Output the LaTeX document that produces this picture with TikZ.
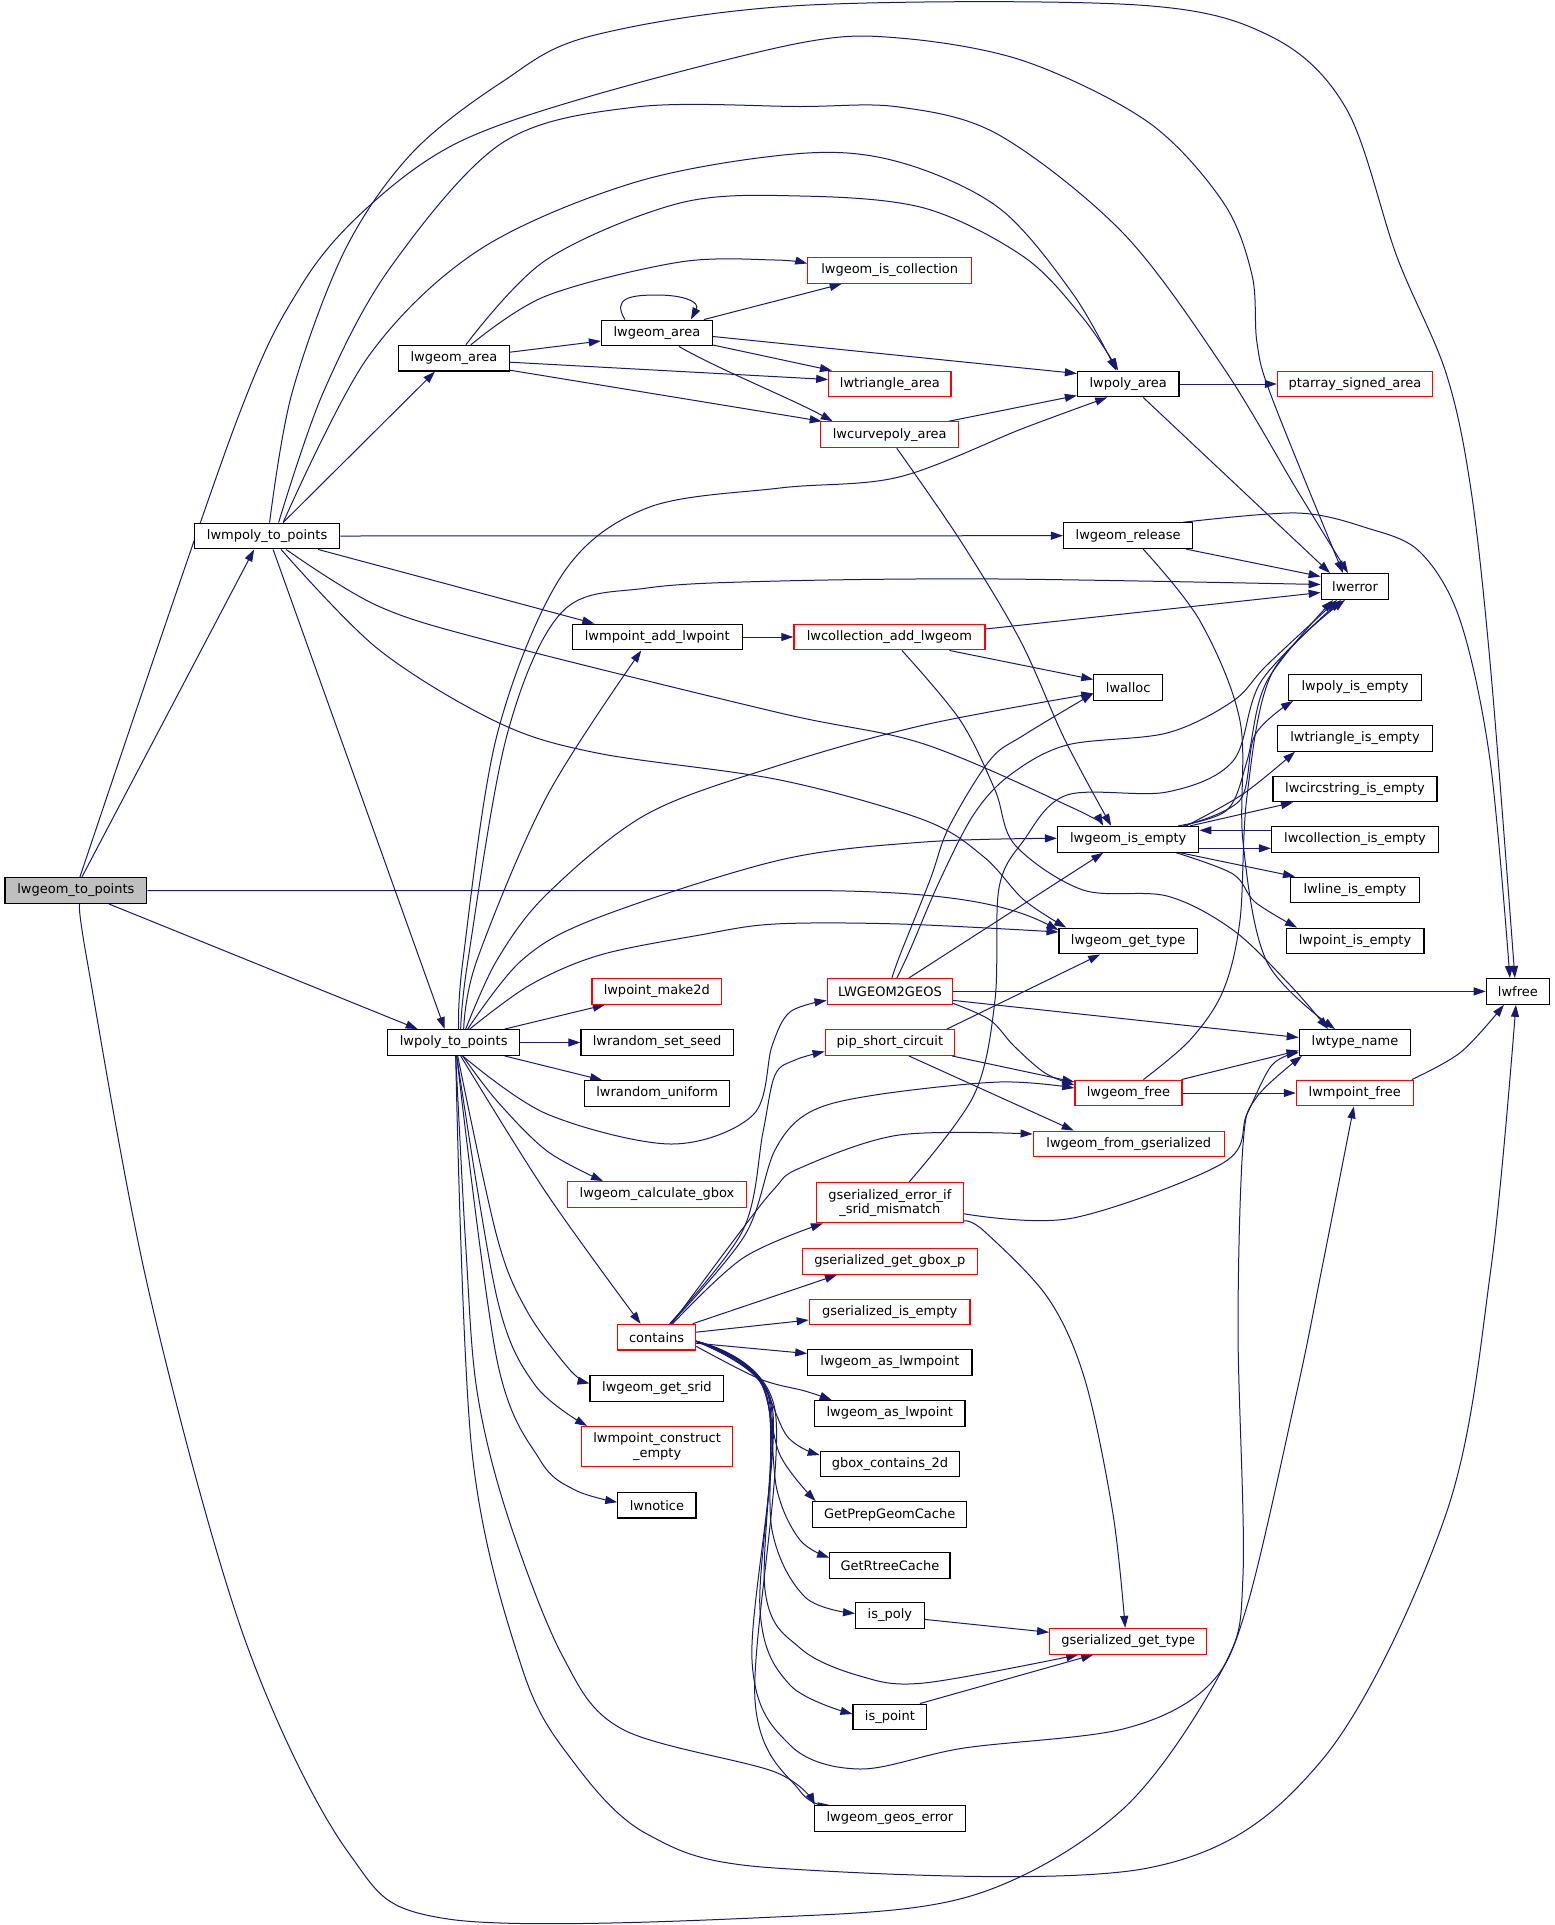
\documentclass[tikz,border=0pt]{standalone}
\usepackage{fontspec}
\newfontfamily\dvs{DejaVu Sans}
\usetikzlibrary{arrows.meta}
\pgfdeclarelayer{background}
\pgfdeclarelayer{backmost}
\pgfsetlayers{backmost,background,main}
\definecolor{navyedge}{HTML}{191970}
\tikzset{
 fn/.style={draw=black, line width=1.2pt, fill=white, minimum height=25.7pt, inner xsep=3pt, inner ysep=2pt,
   font=\dvs\fontsize{13}{14.2}\selectfont, text=black},
 rfn/.style={fn, draw=red},
 rootfn/.style={fn, fill=black!25},
 cl/.style={draw=navyedge, line width=1pt, -{Triangle[length=12pt,width=8pt]}},
 sm/.style={smooth, tension=0.55}
}
\begin{document}
\begin{tikzpicture}[x=1pt,y=-1pt]
\useasboundingbox (0,0) rectangle (1555,1925);
\begin{pgfonlayer}{backmost}
\fill[white] (0,0) rectangle (1555,1925);
\end{pgfonlayer}
% nodes
\node[rootfn, minimum width=141.7pt] (A) at (75.9,890.5) {lwgeom\_to\_points};
\node[fn, minimum width=145.2pt] (B) at (267.1,536) {lwmpoly\_to\_points};
\node[fn, minimum width=110.9pt] (ga1) at (453.9,358.2) {lwgeom\_area};
\node[fn, minimum width=110.9pt] (ga2) at (656.9,333) {lwgeom\_area};
\node[fn, minimum width=169.6pt] (mpadd) at (657.3,637) {lwmpoint\_add\_lwpoint};
\node[rfn, minimum width=163.7pt] (iscoll) at (889.7,270.5) {lwgeom\_is\_collection};
\node[rfn, minimum width=122.3pt] (trarea) at (889.9,384) {lwtriangle\_area};
\node[rfn, minimum width=137.7pt] (cparea) at (889.7,434.7) {lwcurvepoly\_area};
\node[fn, minimum width=101.5pt] (parea) at (1128.2,384) {lwpoly\_area};
\node[rfn, minimum width=155.2pt] (psa) at (1355,384) {ptarray\_signed\_area};
\node[fn, minimum width=129.3pt] (release) at (1128.2,535.7) {lwgeom\_release};
\node[fn, minimum width=67.6pt] (lwerror) at (1355,586.5) {lwerror};
\node[rfn, minimum width=191pt] (colladd) at (889.4,637) {lwcollection\_add\_lwgeom};
\node[fn, minimum width=68.7pt] (lwalloc) at (1128.2,687.5) {lwalloc};
\node[fn, minimum width=132.3pt] (polyempty) at (1355,687.5) {lwpoly\_is\_empty};
\node[fn, minimum width=155.2pt] (triempty) at (1355,738.3) {lwtriangle\_is\_empty};
\node[fn, minimum width=164.1pt] (circempty) at (1355,789) {lwcircstring\_is\_empty};
\node[fn, minimum width=141.3pt] (isempty) at (1128.2,839.3) {lwgeom\_is\_empty};
\node[fn, minimum width=167.1pt] (collempty) at (1355,839.3) {lwcollection\_is\_empty};
\node[fn, minimum width=128.8pt] (lineempty) at (1355,890) {lwline\_is\_empty};
\node[fn, minimum width=138.3pt] (gettype) at (1128.2,941) {lwgeom\_get\_type};
\node[fn, minimum width=137.8pt] (ptempty) at (1355,941) {lwpoint\_is\_empty};
\node[fn, minimum width=132.3pt] (C) at (453.7,1042.5) {lwpoly\_to\_points};
\node[rfn, minimum width=129.8pt] (make2d) at (656.8,991.4) {lwpoint\_make2d};
\node[fn, minimum width=152.2pt] (seed) at (657.1,1042.5) {lwrandom\_set\_seed};
\node[fn, minimum width=145.2pt] (uniform) at (657.1,1093.5) {lwrandom\_uniform};
\node[rfn, minimum width=179.1pt] (gbox) at (657,1194.5) {lwgeom\_calculate\_gbox};
\node[rfn, minimum width=77.6pt] (contains) at (656.6,1337.2) {contains};
\node[fn, minimum width=133.7pt] (srid) at (656.9,1388.4) {lwgeom\_get\_srid};
\node[rfn, minimum width=151.2pt, minimum height=40pt, align=center] (mpce) at (657.1,1446.5) {lwmpoint\_construct\\\_empty};
\node[fn, minimum width=78.1pt] (notice) at (656.9,1505.2) {lwnotice};
\node[rfn, minimum width=125.4pt] (geos) at (889.9,991.4) {LWGEOM2GEOS};
\node[rfn, minimum width=129.4pt] (pip) at (889.9,1042.5) {pip\_short\_circuit};
\node[rfn, minimum width=107pt] (gfree) at (1128.4,1093) {lwgeom\_free};
\node[rfn, minimum width=191pt] (fromgs) at (1128.7,1144) {lwgeom\_from\_gserialized};
\node[rfn, minimum width=147.2pt, minimum height=40pt, align=center] (srmis) at (889.9,1202.8) {gserialized\_error\_if\\\_srid\_mismatch};
\node[rfn, minimum width=175pt] (gboxp) at (889.9,1261.5) {gserialized\_get\_gbox\_p};
\node[rfn, minimum width=160.7pt] (gsempty) at (889.7,1312) {gserialized\_is\_empty};
\node[fn, minimum width=164.2pt] (asmpt) at (889.9,1362.5) {lwgeom\_as\_lwmpoint};
\node[fn, minimum width=150.7pt] (aspt) at (889.7,1413.5) {lwgeom\_as\_lwpoint};
\node[fn, minimum width=139.2pt] (gbc) at (889.9,1464) {gbox\_contains\_2d};
\node[fn, minimum width=153.7pt] (gpgc) at (889.7,1514.5) {GetPrepGeomCache};
\node[fn, minimum width=120.3pt] (grtc) at (889.9,1565.5) {GetRtreeCache};
\node[fn, minimum width=68.6pt] (ispoly) at (889.9,1615.4) {is\_poly};
\node[rfn, minimum width=157.1pt] (gsgt) at (1128.2,1641.3) {gserialized\_get\_type};
\node[fn, minimum width=73.7pt] (ispoint) at (889.9,1717) {is\_point};
\node[fn, minimum width=151.2pt] (geoserr) at (889.9,1818.5) {lwgeom\_geos\_error};
\node[fn, minimum width=63.2pt] (lwfree) at (1517.9,991.4) {lwfree};
\node[fn, minimum width=111.4pt] (typename) at (1355,1042.5) {lwtype\_name};
\node[rfn, minimum width=116.9pt] (mpfree) at (1354.8,1093) {lwmpoint\_free};

\begin{pgfonlayer}{background}
% lwgeom_to_points
\draw[cl] ([xshift=6pt]A.north) -- ([xshift=-13pt]B.south);
\draw[cl] ([xshift=33pt]A.south) -- ([xshift=-36pt]C.north);
\draw[cl] (A.east) -- (800,890.5) .. controls (950,890.5) and (1010,905) .. ([yshift=11pt]gettype.west);
\draw[cl] plot[sm] coordinates {([xshift=4pt]A.north) (234,428) (301,286) (368,207) (457,143) (591,96) (800,43) (899,38) (1024,61) (1148,122) (1223,202) (1252,275) (1257,343) (1272,398) ([xshift=-12pt]lwerror.north)};
\draw[cl] plot[sm] coordinates {([xshift=4pt]A.south) (87,960) (149,1292) (244,1637) (348,1852) (448,1919) (775,1917) (974,1895) (1123,1809) (1223,1668) (1243,1575) (1238,1329) (1243,1145) (1256,1098) ([xshift=-53pt]typename.south)};
% lwmpoly_to_points
\draw[cl] plot[sm] coordinates {([xshift=2.5pt]B.north) (292,393) (345,250) (412,153) (502,82) (591,36) (800,5.5) (1138,5) (1272,37) (1347,110) (1397,257) (1446,373) (1471,490) (1491,673) ([xshift=-3pt]lwfree.north)};
\draw[cl] plot[sm] coordinates {([xshift=11.5pt]B.north) (323,393) (390,268) (502,143) (636,107) (800,106.5) (899,107) (999,135) (1123,233) (1223,367) (1297,490) ([xshift=-7pt]lwerror.north)};
\draw[cl] plot[sm] coordinates {([xshift=16pt]B.north) (368,357) (479,250) (636,182) (800,153.5) (899,162) (999,208) (1073,294) ([xshift=-12pt]parea.north)};
\draw[cl] ([xshift=16pt]B.north) -- ([xshift=-19pt]ga1.south);
\draw[cl] ([xshift=6pt]B.south) -- ([xshift=-9pt]C.north);
\draw[cl] ([xshift=51pt]B.south) -- ([xshift=-63pt]mpadd.north);
\draw[cl] (B.east) -- (release.west);
\draw[cl] plot[sm] coordinates {([xshift=19pt]B.south) (378,606) (497,643) (780,713) (924,744) (1073,808) ([xshift=-25pt]isempty.north)};
\draw[cl] plot[sm] coordinates {([xshift=14pt]B.south) (378,649) (497,722) (597,753) (780,780) (924,820) (984,857) (1024,900) ([xshift=-62pt]gettype.north)};
% lwgeom_area (1)
\draw[cl] ([yshift=6pt]ga1.east) -- ([yshift=-8pt]ga2.west);
\draw[cl] ([yshift=-4pt]ga1.east) -- ([yshift=4.5pt]trarea.west);
\draw[cl] ([yshift=-12pt]ga1.east) -- ([xshift=-68pt]cparea.north);
\draw[cl] plot[sm] coordinates {([xshift=17pt]ga1.north) (546,296) (680,262) (775,260) ([yshift=7pt]iscoll.west)};
\draw[cl] plot[sm] coordinates {([xshift=12pt]ga1.north) (546,260) (680,203) (800,196) (924,208) (1024,257) (1083,318) ([xshift=-10pt]parea.north)};
% lwgeom_area (2)
\draw[cl] ([xshift=-32pt]ga2.north) .. controls (612,298) and (630,295) .. (657,295) .. controls (684,295) and (700,302) .. ([xshift=34pt]ga2.north);
\draw[cl] ([xshift=47pt]ga2.north) -- ([xshift=-48pt]iscoll.south);
\draw[cl] ([yshift=-3.5pt]ga2.east) -- ([yshift=10.5pt]parea.west);
\draw[cl] ([yshift=-12pt]ga2.east) -- ([xshift=-58pt]trarea.north);
\draw[cl] ([xshift=22pt]ga2.south) .. controls (720,370) and (790,398) .. ([xshift=-57pt]cparea.north);
% lwcurvepoly_area
\draw[cl] ([xshift=59pt]cparea.north) -- ([yshift=-11.5pt]parea.west);
\draw[cl] plot[sm] coordinates {([xshift=7pt]cparea.south) (960,540) (1020,640) (1065,740) ([xshift=-17pt]isempty.north)};
% lwpoly_area
\draw[cl] (parea.east) -- (psa.west);
\draw[cl] ([xshift=15pt]parea.south) -- ([xshift=-25pt]lwerror.north);
% lwgeom_release
\draw[cl] plot[sm] coordinates {([xshift=55pt]release.north) (1297,513) (1367,528) (1420,552) (1460,620) (1490,760) ([xshift=-8pt]lwfree.north)};
\draw[cl] ([xshift=58pt]release.south) -- ([yshift=10pt]lwerror.west);
\draw[cl] plot[sm] coordinates {([xshift=15pt]release.south) (1200,621) (1240,721) (1243,842) (1267,962) ([xshift=-20pt]typename.north)};
% lwmpoint_add_lwpoint
\draw[cl] (mpadd.east) -- (colladd.west);
% lwcollection_add_lwgeom
\draw[cl] ([yshift=8pt]colladd.east) -- ([yshift=-6pt]lwerror.west);
\draw[cl] ([xshift=60pt]colladd.south) -- ([yshift=8pt]lwalloc.west);
\draw[cl] plot[sm] coordinates {([xshift=12.5pt]colladd.south) (960,720) (995,790) (1015,845) (1083,890) (1167,896) (1233,930) (1290,985) ([xshift=-27pt]typename.north)};
% lwgeom_is_empty
\draw[cl] plot[sm] coordinates {([xshift=55pt]isempty.north) (1240,800) (1255,735) ([xshift=-62pt]polyempty.south)};
\draw[cl] plot[sm] coordinates {([xshift=58pt]isempty.north) (1243,794) ([xshift=-60pt]triempty.south)};
\draw[cl] ([xshift=62pt]isempty.north) -- ([xshift=-62pt]circempty.south);
\draw[cl] ([yshift=-9pt]isempty.east) -- ([yshift=-9pt]collempty.west);
\draw[cl] ([yshift=9pt]collempty.west) -- ([yshift=9pt]isempty.east);
\draw[cl] ([xshift=52pt]isempty.south) -- ([xshift=-60pt]lineempty.north);
\draw[cl] plot[sm] coordinates {([xshift=48pt]isempty.south) (1233,874) (1255,902) ([xshift=-58pt]ptempty.north)};
\draw[cl] plot[sm] coordinates {([xshift=50pt]isempty.north) (1227,810) (1247,761) (1267,681) ([xshift=-22pt]lwerror.south)};
% lwpoly_to_points
\draw[cl] plot[sm] coordinates {([xshift=5pt]C.north) (463,960) (497,735) (562,575) (647,508) (780,488) (899,477) (1024,428) ([xshift=-21pt]parea.south)};
\draw[cl] plot[sm] coordinates {([xshift=7pt]C.north) (468,960) (507,735) (562,612) (647,588) (780,581) (1000,579) ([yshift=2pt]lwerror.west)};
\draw[cl] plot[sm] coordinates {([xshift=10pt]C.north) (477,960) (547,796) ([xshift=-16pt]mpadd.south)};
\draw[cl] plot[sm] coordinates {([xshift=12pt]C.north) (497,960) (547,894) (647,814) (780,765) (924,725) ([yshift=-6pt]lwalloc.west)};
\draw[cl] plot[sm] coordinates {([xshift=14pt]C.north) (522,960) (597,918) (780,860) (924,842) ([yshift=1pt]isempty.west)};
\draw[cl] plot[sm] coordinates {([xshift=16pt]C.north) (530,985) (600,955) (700,935) (775,924) (900,924) ([yshift=9pt]gettype.west)};
\draw[cl] plot[sm] coordinates {([xshift=9pt]C.south) (547,1114) (671,1144) (753,1115) (772,1046) (790,1012) ([yshift=-9pt]geos.west)};
\draw[cl] ([xshift=51pt]C.north) -- ([xshift=-52pt]make2d.south);
\draw[cl] (C.east) -- (seed.west);
\draw[cl] ([xshift=51pt]C.south) -- ([xshift=-55pt]uniform.north);
\draw[cl] plot[sm] coordinates {([xshift=9pt]C.south) (497,1101) (547,1151) ([xshift=-54pt]gbox.north)};
\draw[cl] plot[sm] coordinates {([xshift=7pt]C.south) (547,1194) ([xshift=-16pt]contains.north)};
\draw[cl] plot[sm] coordinates {([xshift=4pt]C.south) (497,1237) (527,1311) (570,1370) ([yshift=5pt]srid.west)};
\draw[cl] plot[sm] coordinates {([xshift=3pt]C.south) (497,1298) (535,1385) ([xshift=-70pt]mpce.north)};
\draw[cl] plot[sm] coordinates {([xshift=3pt]C.south) (497,1360) (540,1460) (575,1490) ([yshift=3pt]notice.west)};
\draw[cl] plot[sm] coordinates {([xshift=2pt]C.south) (466,1250) (477,1391) (507,1514) (562,1655) (622,1729) (775,1772) ([xshift=-75pt]geoserr.north)};
\draw[cl] plot[sm] coordinates {([xshift=2pt]C.south) (472,1452) (522,1668) (572,1760) (647,1834) (775,1868) (1148,1868) (1322,1760) (1446,1514) (1491,1268) ([xshift=-2pt]lwfree.south)};
% contains
\draw[cl] plot[sm] coordinates {([xshift=13pt]contains.north) (743,1230) (763,1132) (775,1075) (795,1060) ([yshift=-9pt]pip.west)};
\draw[cl] plot[sm] coordinates {([xshift=14pt]contains.north) (745,1235) (775,1150) (810,1112) (875,1095) (999,1082) ([yshift=5pt]gfree.west)};
\draw[cl] plot[sm] coordinates {([xshift=15pt]contains.north) (740,1232) (775,1188) (800,1168) (899,1135) ([yshift=10pt]fromgs.west)};
\draw[cl] plot[sm] coordinates {([xshift=16pt]contains.north) (743,1258) ([xshift=-67pt]srmis.south)};
\draw[cl] ([xshift=36pt]contains.north) -- ([xshift=-53pt]gboxp.south);
\draw[cl] ([yshift=5pt]contains.east) -- ([yshift=-8pt]gsempty.west);
\draw[cl] ([yshift=-6pt]contains.east) -- ([yshift=9pt]asmpt.west);
\draw[cl] plot[sm] coordinates {([yshift=-9pt]contains.east) (760,1379) (805,1391) ([xshift=-58pt]aspt.north)};
\draw[cl] plot[sm] coordinates {([yshift=-4pt]contains.east) (755,1372) (787,1436) ([yshift=9pt]gbc.west)};
\draw[cl] plot[sm] coordinates {([yshift=-4pt]contains.east) (758,1378) (780,1455) ([xshift=-74pt]gpgc.north)};
\draw[cl] plot[sm] coordinates {([yshift=-4pt]contains.east) (762,1385) (777,1490) (800,1540) ([yshift=8pt]grtc.west)};
\draw[cl] plot[sm] coordinates {([yshift=-4pt]contains.east) (765,1390) (772,1530) (805,1597) ([yshift=2pt]ispoly.west)};
\draw[cl] plot[sm] coordinates {([yshift=-4pt]contains.east) (768,1395) (765,1590) (800,1648) (860,1676) (924,1683) ([xshift=-50pt]gsgt.south)};
\draw[cl] plot[sm] coordinates {([yshift=-4pt]contains.east) (770,1400) (760,1610) (790,1685) ([yshift=3pt]ispoint.west)};
\draw[cl] plot[sm] coordinates {([yshift=-4pt]contains.east) (772,1405) (752,1660) (790,1745) (860,1769) (964,1748) (1123,1729) (1208,1686) (1247,1606) (1297,1391) (1322,1268) ([xshift=-1pt]mpfree.south)};
\draw[cl] plot[sm] coordinates {([yshift=-4pt]contains.east) (775,1410) (755,1700) (800,1791) ([xshift=-60pt]geoserr.north)};
% pip_short_circuit
\draw[cl] ([xshift=57pt]pip.north) -- ([xshift=-28pt]gettype.south);
\draw[cl] ([xshift=62pt]pip.south) -- ([yshift=11pt]gfree.west);
\draw[cl] ([xshift=19pt]pip.south) -- ([xshift=-55pt]fromgs.north);
% LWGEOM2GEOS
\draw[cl] (geos.east) -- (lwfree.west);
\draw[cl] ([yshift=-9pt]geos.east) -- ([yshift=5pt]typename.west);
\draw[cl] plot[sm] coordinates {([yshift=-12pt]geos.east) (990,1020) (1014,1046) (1045,1073) ([yshift=8pt]gfree.west)};
\draw[cl] plot[sm] coordinates {([xshift=7pt]geos.north) (910,950) (940,880) (974,814) (1010,775) (1067,745) (1167,733) (1233,701) (1267,665) ([xshift=-18pt]lwerror.south)};
\draw[cl] plot[sm] coordinates {([xshift=2pt]geos.north) (900,955) (930,880) (949,827) (990,760) (1024,735) ([yshift=-6pt]lwalloc.west)};
\draw[cl] ([xshift=19pt]geos.north) -- ([xshift=-25pt]isempty.south);
% lwgeom_free
\draw[cl] ([xshift=53pt]gfree.north) -- ([yshift=-8pt]typename.west);
\draw[cl] (gfree.east) -- (mpfree.west);
\draw[cl] plot[sm] coordinates {([xshift=15pt]gfree.north) (1190,1040) (1223,991) (1240,920) (1247,796) (1272,673) ([xshift=-10pt]lwerror.south)};
% gserialized_error_if_srid_mismatch
\draw[cl] plot[sm] coordinates {([yshift=-18pt]srmis.east) (984,1231) (1048,1298) (1085,1380) (1113,1514) ([xshift=-3pt]gsgt.north)};
\draw[cl] plot[sm] coordinates {([yshift=-11pt]srmis.east) (1073,1218) (1223,1163) (1247,1114) (1272,1065) ([yshift=-10pt]typename.west)};
\draw[cl] plot[sm] coordinates {([xshift=19pt]srmis.north) (974,1095) (995,1000) (999,888) (1024,840) (1067,795) (1167,792) (1233,761) (1262,680) ([xshift=-14pt]lwerror.south)};
% is_poly, is_point, lwmpoint_free
\draw[cl] ([yshift=-4pt]ispoly.east) -- ([yshift=9pt]gsgt.west);
\draw[cl] ([xshift=30pt]ispoint.north) -- ([xshift=-35pt]gsgt.south);
\draw[cl] plot[sm] coordinates {([xshift=57pt]mpfree.north) (1461,1052) ([xshift=-14pt]lwfree.south)};
\end{pgfonlayer}
\end{tikzpicture}
\end{document}
